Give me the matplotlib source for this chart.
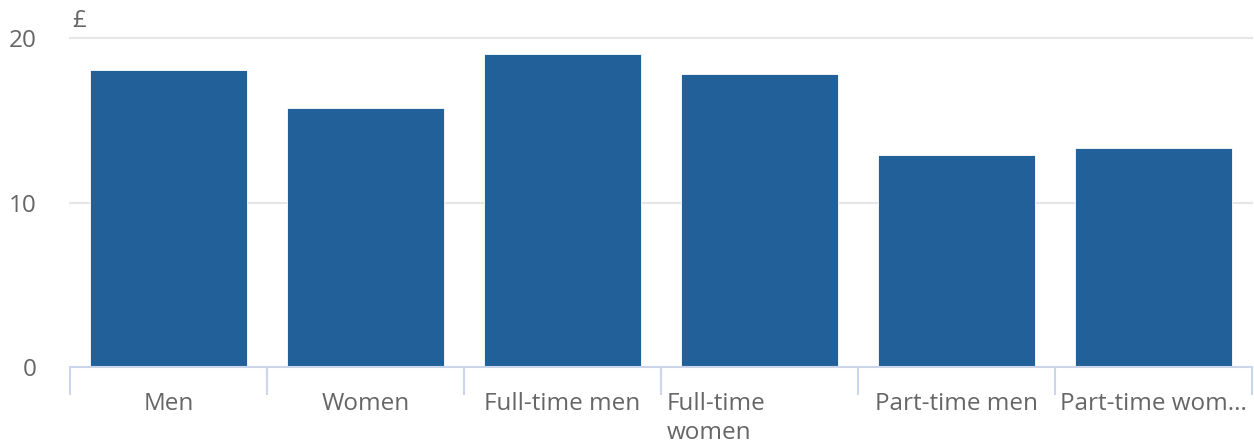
import matplotlib
matplotlib.use("Agg")
import matplotlib.pyplot as plt
from matplotlib.transforms import blended_transform_factory
import numpy as np

categories = ["Men", "Women", "Full-time men", "Full-time\nwomen", "Part-time men", "Part-time wom..."]
values = [18.05, 15.75, 19.05, 17.8, 12.9, 13.3]
yticks = [0, 10, 20]

plt.rcParams['font.family'] = ['Open Sans', 'DejaVu Sans']
grey = "#666666"
fs = 17.5
fig = plt.figure(figsize=(12.54, 4.46), dpi=100)
ax = fig.add_axes([70/1254, 1-367/446, 1182/1254, (367-38)/446])

x = np.arange(len(categories))
ax.bar(x, values, width=0.8, color="#22609a", edgecolor="white", linewidth=0.6, zorder=3)
ax.set_xlim(-0.5, len(categories)-0.5)
ax.set_ylim(0, 20)
ax.set_yticks(yticks)
ax.set_yticklabels([str(v) for v in yticks], fontsize=fs, color=grey)
ax.tick_params(axis='y', length=0, pad=24)
for v in yticks[1:]:
    ax.axhline(v, color="#e6e6e6", linewidth=1.5, zorder=1, clip_on=False)

for s in ["top", "right", "left"]:
    ax.spines[s].set_visible(False)
ax.spines["bottom"].set_color("#ccd6eb")
ax.spines["bottom"].set_linewidth(1.5)
ax.spines["bottom"].set_zorder(4)

ax.set_xticks(np.arange(len(categories)+1) - 0.5)
ax.set_xticklabels([])
ax.tick_params(axis='x', length=20, width=1.5, color="#ccd6eb")

trans = blended_transform_factory(ax.transData, ax.transAxes)
for i, c in enumerate(categories):
    if "\n" in c:
        ax.text(i - 0.47, -0.075, c, transform=trans, ha='left', va='top',
                fontsize=fs, color=grey, linespacing=1.3)
    else:
        ax.text(i, -0.075, c, transform=trans, ha='center', va='top',
                fontsize=fs, color=grey)

ax.text(0.002, 1.015, "£", transform=ax.transAxes, ha='left', va='bottom',
        fontsize=fs, color=grey)

fig.savefig("out.png", dpi=100)
